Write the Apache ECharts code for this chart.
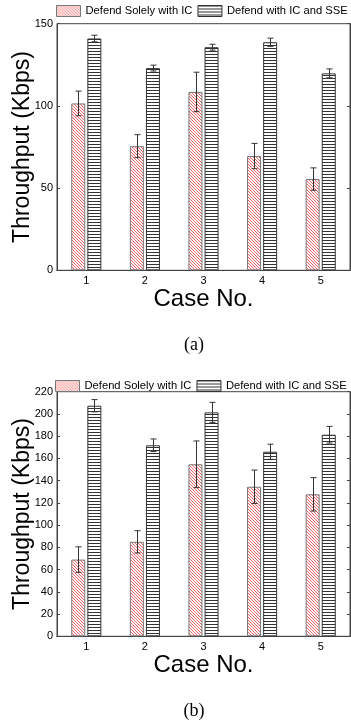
<!DOCTYPE html>
<html>
<head>
<meta charset="utf-8">
<script src="https://cdn.jsdelivr.net/npm/echarts@6/dist/echarts.min.js"></script>
<style>
html,body{margin:0;padding:0;background:#fff;}
#c{width:351px;height:723px;}
</style>
</head>
<body>
<div id="c"></div>
<script>
// ---- data ----
const cases = ['1', '2', '3', '4', '5'];
const seriesNames = ['Defend Solely with IC', 'Defend with IC and SSE'];
// (a)
const aIC = [101.5, 75.5, 108.5, 69.5, 55.5];
const aICErr = [7.5, 7, 12, 7.7, 6.8];
const aSSE = [141, 123, 135.7, 138.7, 119.8];
const aSSEErr = [2, 1.8, 1.8, 2.5, 2.7];
const aTicks = [0, 50, 100, 150];
// (b)
const bIC = [69, 85, 154.7, 134.5, 127.7];
const bICErr = [11.5, 10, 21, 15, 15];
const bSSE = [207.4, 171.8, 201.4, 166, 181.3];
const bSSEErr = [5.5, 5.7, 9, 6.8, 7.5];
const bTicks = [0, 20, 40, 60, 80, 100, 120, 140, 160, 180, 200, 220];
const captions = ['(a)', '(b)'];

// ---- patterns ----
function redHatch() {
  const c = document.createElement('canvas');
  c.width = 3; c.height = 3;
  const g = c.getContext('2d');
  g.fillStyle = '#fff'; g.fillRect(0, 0, 3, 3);
  g.fillStyle = 'rgb(240,100,100)';
  for (let i = 0; i < 3; i++) g.fillRect(i, i, 1, 1);
  return c;
}
function hLines() {
  const c = document.createElement('canvas');
  c.width = 3; c.height = 3;
  const g = c.getContext('2d');
  g.fillStyle = '#fff'; g.fillRect(0, 0, 3, 3);
  g.fillStyle = '#333';
  g.fillRect(0, 0, 3, 1);
  return c;
}
const redPat = { image: redHatch(), repeat: 'repeat' };
const blkPat = { image: hLines(), repeat: 'repeat' };

const font = 'Liberation Sans, Arial, sans-serif';
const axisColor = '#444';

function errData(vals, errs) {
  return vals.map((v, i) => [i, v - errs[i], v + errs[i]]);
}
function errSeries(gi, vals, errs, offset) {
  return {
    type: 'custom',
    xAxisIndex: gi * 2, yAxisIndex: gi * 2,
    z: 10,
    silent: true,
    renderItem: function (params, api) {
      const lo = api.coord([api.value(0), api.value(1)]);
      const hi = api.coord([api.value(0), api.value(2)]);
      const x = Math.round(lo[0] + offset) + 0.5;
      const w = 3;
      const st = { stroke: '#333', lineWidth: 1 };
      return {
        type: 'group',
        children: [
          { type: 'line', shape: { x1: x, y1: lo[1], x2: x, y2: hi[1] }, style: st },
          { type: 'line', shape: { x1: x - w, y1: lo[1], x2: x + w, y2: lo[1] }, style: st },
          { type: 'line', shape: { x1: x - w, y1: hi[1], x2: x + w, y2: hi[1] }, style: st }
        ]
      };
    },
    data: errData(vals, errs)
  };
}

const grids = [
  { left: 57, right: 1, top: 23.7, height: 246.6, max: 150, interval: 50 },
  { left: 57, right: 1, top: 391.7, height: 244.6, max: 220, interval: 20 }
];

const legendCommon = {
  width: 340, orient: 'horizontal', itemWidth: 24, itemHeight: 11, itemGap: 5, padding: 0,
  icon: 'rect',
  data: seriesNames, itemStyle: { borderWidth: 1 },
  textStyle: { fontSize: 11.2, color: '#000', fontFamily: font }
};

const option = {
  animation: false,
  backgroundColor: '#fff',
  textStyle: { fontFamily: font },
  legend: [
    Object.assign({ left: 56, top: 5 }, legendCommon),
    Object.assign({ left: 55, top: 380 }, legendCommon)
  ],
  grid: grids.map(g => ({ left: g.left, right: g.right, top: g.top, height: g.height,
    containLabel: false, outerBoundsMode: 'none',
    show: true, borderColor: axisColor, borderWidth: 1, backgroundColor: '#fff' })),
  xAxis: [],
  yAxis: [],
  series: [],
  graphic: [
    { type: 'text', x: 194, y: 345, style: { text: captions[0], textAlign: 'center', textVerticalAlign: 'middle', font: '18px "Liberation Serif", "Times New Roman", serif', fill: '#000' } },
    { type: 'text', x: 194, y: 711, style: { text: captions[1], textAlign: 'center', textVerticalAlign: 'middle', font: '18px "Liberation Serif", "Times New Roman", serif', fill: '#000' } }
  ]
};

grids.forEach((g, gi) => {
  option.xAxis.push({
    type: 'category', gridIndex: gi, data: cases,
    name: 'Case No.', nameLocation: 'middle', nameGap: 17, nameMoveOverlap: false,
    nameTextStyle: { fontSize: 24, color: '#000', fontFamily: font },
    axisLine: { lineStyle: { color: axisColor } },
    axisTick: { inside: true, alignWithLabel: true, length: 3, lineStyle: { color: axisColor } },
    axisLabel: { fontSize: 11, color: '#000', margin: 5 }
  });
  option.xAxis.push({
    type: 'category', gridIndex: gi, data: cases, position: 'top',
    axisLine: { lineStyle: { color: axisColor } },
    axisTick: { inside: true, alignWithLabel: true, length: 3, lineStyle: { color: axisColor } },
    axisLabel: { show: false }
  });
  option.yAxis.push({
    type: 'value', gridIndex: gi, min: 0, max: g.max, interval: g.interval,
    name: 'Throughput (Kbps)', nameLocation: 'middle', nameGap: 23, nameMoveOverlap: false,
    nameTextStyle: { fontSize: 23, color: '#000', fontFamily: font },
    axisLine: { show: true, lineStyle: { color: axisColor } },
    axisTick: { show: true, inside: true, length: 3, lineStyle: { color: axisColor } },
    axisLabel: { fontSize: 11, color: '#000', margin: 4 },
    splitLine: { show: false }
  });
  option.yAxis.push({
    type: 'value', gridIndex: gi, min: 0, max: g.max, interval: g.interval, position: 'right',
    axisLine: { show: true, lineStyle: { color: axisColor } },
    axisTick: { show: true, inside: true, length: 3, lineStyle: { color: axisColor } },
    axisLabel: { show: false },
    splitLine: { show: false }
  });
});

const ic = [aIC, bIC], icErr = [aICErr, bICErr], sse = [aSSE, bSSE], sseErr = [aSSEErr, bSSEErr];
[0, 1].forEach(gi => {
  option.series.push({
    name: seriesNames[0], type: 'bar', xAxisIndex: gi * 2, yAxisIndex: gi * 2,
    barWidth: 14, barGap: '15%', data: ic[gi],
    itemStyle: { color: redPat, borderColor: '#777', borderWidth: 1 }
  });
  option.series.push({
    name: seriesNames[1], type: 'bar', xAxisIndex: gi * 2, yAxisIndex: gi * 2,
    barWidth: 14, barGap: '15%', data: sse[gi],
    itemStyle: { color: blkPat, borderColor: '#333', borderWidth: 1 }
  });
  option.series.push(errSeries(gi, ic[gi], icErr[gi], -8));
  option.series.push(errSeries(gi, sse[gi], sseErr[gi], 8));
});

const chart = echarts.init(document.getElementById('c'), null, { renderer: 'canvas' });
chart.setOption(option);
</script>
</body>
</html>
